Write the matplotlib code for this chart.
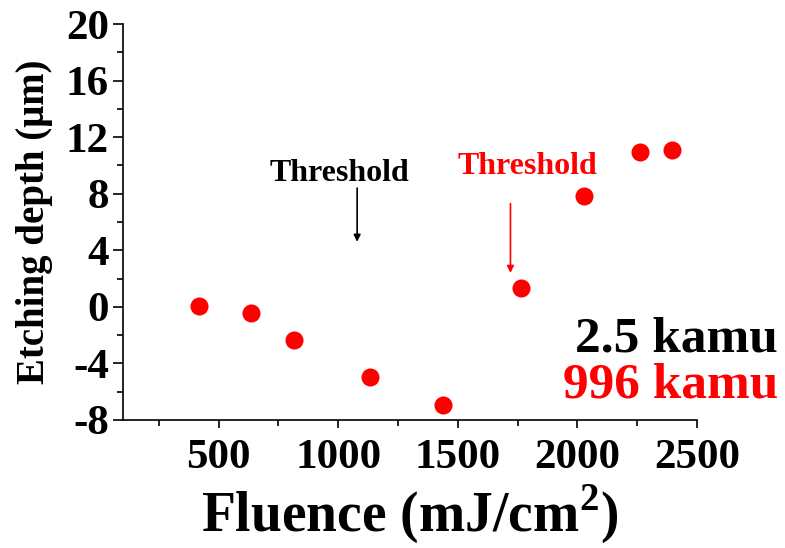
import numpy as np
import matplotlib.pyplot as plt
from matplotlib.ticker import MultipleLocator

plt.rcParams['font.family'] = ['Liberation Serif', 'DejaVu Serif']
plt.rcParams['font.weight'] = 'bold'
plt.rcParams['axes.unicode_minus'] = False
plt.rcParams['mathtext.fontset'] = 'custom'
plt.rcParams['mathtext.rm'] = 'Liberation Serif:bold'
plt.rcParams['mathtext.bf'] = 'Liberation Serif:bold'

# fluence (mJ/cm2) and etching depth (um)
fluence = [416, 634, 814, 1133, 1439, 1766, 2026, 2261, 2395]
depth = [0.05, -0.45, -2.35, -4.95, -6.95, 1.35, 7.85, 10.95, 11.1]

thr_black_x = 1079
thr_red_x = 1720

fig = plt.figure(figsize=(7.85, 5.48), dpi=100)
ax = fig.add_axes([0.1567, 0.2336, 0.7312, 0.7226])

ax.plot(fluence, depth, 'o', color='red', markersize=13, markeredgewidth=0)

ax.set_xlim(100, 2500)
ax.set_ylim(-8, 20)
ax.xaxis.set_major_locator(MultipleLocator(500))
ax.xaxis.set_minor_locator(MultipleLocator(250))
ax.yaxis.set_major_locator(MultipleLocator(4))
ax.yaxis.set_minor_locator(MultipleLocator(2))

for s in ['top', 'right']:
    ax.spines[s].set_visible(False)
for s in ['left', 'bottom']:
    ax.spines[s].set_linewidth(1.2)

ax.tick_params(axis='both', which='major', direction='out', width=1.2, labelsize=31)
ax.tick_params(axis='y', which='major', length=7, pad=3)
ax.tick_params(axis='x', which='major', length=6, pad=8)
ax.tick_params(axis='both', which='minor', direction='out', width=1.2, length=4)
for lab in ax.get_xticklabels() + ax.get_yticklabels():
    lab.set_fontweight('bold')

ax.set_xlabel('Fluence (mJ/cm$^{2}$)', fontsize=40, fontweight='bold', labelpad=4)
ax.set_ylabel('Etching depth (\u03bcm)', fontsize=28, fontweight='bold', labelpad=9)

# threshold annotations
ax.text(1007, 9.46, 'Threshold', color='black', fontsize=23, fontweight='bold',
        ha='center', va='center')
ax.annotate('', xy=(thr_black_x, 4.6), xytext=(thr_black_x, 8.4),
            arrowprops=dict(arrowstyle='-|>', color='black', lw=1.2,
                            mutation_scale=10, shrinkA=0, shrinkB=0))
ax.text(1791, 9.89, 'Threshold', color='red', fontsize=23, fontweight='bold',
        ha='center', va='center')
ax.annotate('', xy=(thr_red_x, 2.4), xytext=(thr_red_x, 7.3),
            arrowprops=dict(arrowstyle='-|>', color='red', lw=1.2,
                            mutation_scale=10, shrinkA=0, shrinkB=0))

fig.text(0.991, 1 - 352 / 548, '2.5 kamu', color='black', fontsize=37,
         fontweight='bold', ha='right', va='baseline')
fig.text(0.991, 1 - 398 / 548, '996 kamu', color='red', fontsize=37,
         fontweight='bold', ha='right', va='baseline')

fig.savefig('out.png', dpi=100)
